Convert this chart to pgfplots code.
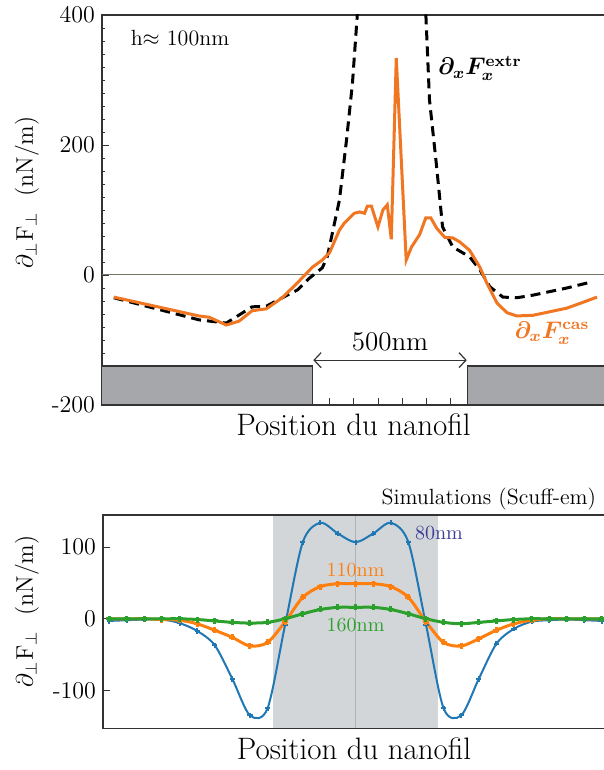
\documentclass[border=0pt]{standalone}
\usepackage{pgfplots}
\pgfplotsset{compat=1.18}
\usepackage{bm}
\usetikzlibrary{arrows.meta}
\definecolor{corange}{RGB}{240,118,34}
\definecolor{rectgray}{RGB}{166,167,171}
\definecolor{zerol}{RGB}{110,120,100}
\definecolor{tblue}{RGB}{31,119,180}
\definecolor{torange}{RGB}{255,127,14}
\definecolor{tgreen}{RGB}{44,160,44}
\definecolor{bandgray}{RGB}{211,214,216}
\definecolor{lblue}{RGB}{60,60,150}
\begin{document}
\begin{tikzpicture}
% ---------------- top panel ----------------
\begin{axis}[
  at={(51pt,182.5pt)}, anchor=south west, scale only axis,
  width=252pt, height=195pt,
  xmin=-927, xmax=695, ymin=-200, ymax=400,
  axis line style={line width=0.6pt, black!80},
  xtick={-195,-117,-39,39,117,195}, xticklabels={},
  ytick={-200,0,200,400}, yticklabels={-200,0,200,400},
  minor y tick num=9,
  tick align=inside, xtick pos=left, ytick pos=left,
  major tick length=3.3pt, minor tick length=1.7pt,
  tick style={black!80, line width=0.4pt},
  yticklabel style={font=\fontsize{12}{14}\selectfont},
  clip=true,
]
\draw[zerol, line width=0.5pt] (axis cs:-927,0) -- (axis cs:695,0);
\addplot[black, line width=1.5pt, dash pattern=on 5pt off 3pt] coordinates {
(-889,-35) (-615,-69) (-527,-74) (-444,-49) (-398,-48) (-347,-35) (-298,-23)
(-260,-5) (-218,11) (-202,28) (-163,115) (-140,208) (-121,295) (-105,403) (-100,450)};
\addplot[black, line width=1.5pt, dash pattern=on 5pt off 3pt] coordinates {
(110,450) (115,403) (127,269) (150,166) (169,74) (202,43) (256,28) (289,8)
(321,-18) (363,-34) (408,-35) (460,-31) (569,-20) (637,-12)};
\addplot[corange, line width=1.5pt] coordinates {
(-889,-34) (-615,-63) (-582,-65) (-527,-77) (-486,-71) (-444,-55) (-398,-52)
(-347,-35) (-298,-12) (-250,12) (-218,23) (-195,34) (-163,69) (-147,80)
(-115,95) (-98,97) (-82,95) (-73,106) (-60,106) (-39,74) (-23,100) (-9,108)
(4,55) (20,334) (52,23) (69,43) (95,62) (115,88) (131,88) (150,72) (176,58)
(202,57) (224,51) (256,38) (289,12) (311,-12) (344,-43) (376,-58) (408,-63)
(460,-62) (569,-51) (621,-42) (666,-34)};
\draw[fill=rectgray, draw=black!80, line width=0.6pt] (axis cs:-940,-200) rectangle (axis cs:-250,-140);
\draw[fill=rectgray, draw=black!80, line width=0.6pt] (axis cs:250,-200) rectangle (axis cs:720,-140);
\draw[{Straight Barb[length=3.5pt,width=7.5pt]}-{Straight Barb[length=3.5pt,width=7.5pt]}, black!80, line width=0.6pt]
  (axis cs:-247,-131) -- (axis cs:247,-131);
\node[font=\fontsize{13.5}{16}\selectfont] at (axis cs:0,-103) {500nm};
\node[font=\fontsize{11}{13}\selectfont] at (axis cs:-676,365) {h$\approx$ 100nm};
\node[font=\fontsize{12}{14}\selectfont] at (axis cs:289,318) {$\bm{\partial_x F}_{\bm{x}}^{\mathbf{extr}}$};
\node[font=\fontsize{12}{14}\selectfont, text=corange] at (axis cs:521,-89) {$\bm{\partial_x F}_{\bm{x}}^{\mathbf{cas}}$};
\end{axis}
% ---------------- bottom panel ----------------
\begin{axis}[
  at={(51.5pt,20.85pt)}, anchor=south west, scale only axis,
  width=251.5pt, height=106.65pt,
  xmin=-14.35, xmax=14.23, ymin=-153, ymax=145,
  axis on top,
  axis line style={line width=0.6pt, black!80},
  xtick=\empty,
  ytick={-100,0,100}, yticklabels={-100,0,100},
  tick align=inside, ytick pos=left,
  major tick length=3.5pt,
  tick style={black!80, line width=0.5pt},
  yticklabel style={font=\fontsize{12}{14}\selectfont},
]
\fill[bandgray] (axis cs:-4.67,-153) rectangle (axis cs:4.67,145);
\draw[black!30, line width=0.6pt] (axis cs:0,-153) -- (axis cs:0,145);
\addplot[tblue, line width=1pt, smooth, tension=0.5, mark=+, mark size=1.3pt] coordinates {
(-14,-3) (-13,-2) (-12,-1) (-11,-1) (-10,-6) (-9,-17) (-8,-37) (-7,-84) (-6,-135)
(-5,-125) (-4,-8) (-3,107) (-2,134) (-1,119) (0,107) (1,119) (2,134) (3,107)
(4,-8) (5,-125) (6,-135) (7,-84) (8,-35) (9,-14) (10,-4) (11,-2) (12,-1) (13,-2) (14,-3)};
\addplot[torange, line width=1.5pt, smooth, tension=0.5, mark=+, mark size=1.5pt] coordinates {
(-14,0) (-13,0) (-12,0) (-11,-1) (-10,-2) (-9,-7) (-8,-16) (-7,-26) (-6,-38)
(-5,-33) (-4,-4) (-3,30) (-2,45) (-1,49) (0,49) (1,49) (2,45) (3,30)
(4,-4) (5,-33) (6,-38) (7,-28) (8,-16) (9,-7) (10,-2) (11,0) (12,0) (13,0) (14,0)};
\addplot[tgreen, line width=1.5pt, smooth, tension=0.5, mark=+, mark size=1.5pt] coordinates {
(-14,0) (-13,0) (-12,0) (-11,0) (-10,0) (-9,-1) (-8,-3) (-7,-5) (-6,-6)
(-5,-5) (-4,0) (-3,7) (-2,13) (-1,16) (0,16) (1,16) (2,13) (3,7)
(4,0) (5,-5) (6,-7) (7,-5) (8,-3) (9,-1) (10,0) (11,0) (12,0) (13,0) (14,0)};
\node[font=\fontsize{10}{12}\selectfont, text=lblue] at (axis cs:4.74,120) {80nm};
\node[font=\fontsize{10}{12}\selectfont, text=torange] at (axis cs:0,68) {110nm};
\node[font=\fontsize{10}{12}\selectfont, text=tgreen] at (axis cs:0,-9) {160nm};
\end{axis}
% ---------------- labels ----------------
\node[font=\fontsize{15.5}{18}\selectfont] at (176.75pt,172.5pt) {Position du nanofil};
\node[font=\fontsize{15.5}{18}\selectfont] at (177pt,10.5pt) {Position du nanofil};
\node[font=\fontsize{12}{14}\selectfont, rotate=90] at (13.5pt,288.75pt) {$\partial_\perp \mathrm{F}_\perp$\ \ (nN/m)};
\node[font=\fontsize{12}{14}\selectfont, rotate=90] at (13.5pt,79.25pt) {$\partial_\perp \mathrm{F}_\perp$\ \ (nN/m)};
\node[font=\fontsize{11}{13}\selectfont, anchor=base east] at (301.5pt,132.5pt) {Simulations (Scuff-em)};
\pgfresetboundingbox
\path[use as bounding box] (0pt,0pt) rectangle (302pt,385pt);
\end{tikzpicture}
\end{document}
